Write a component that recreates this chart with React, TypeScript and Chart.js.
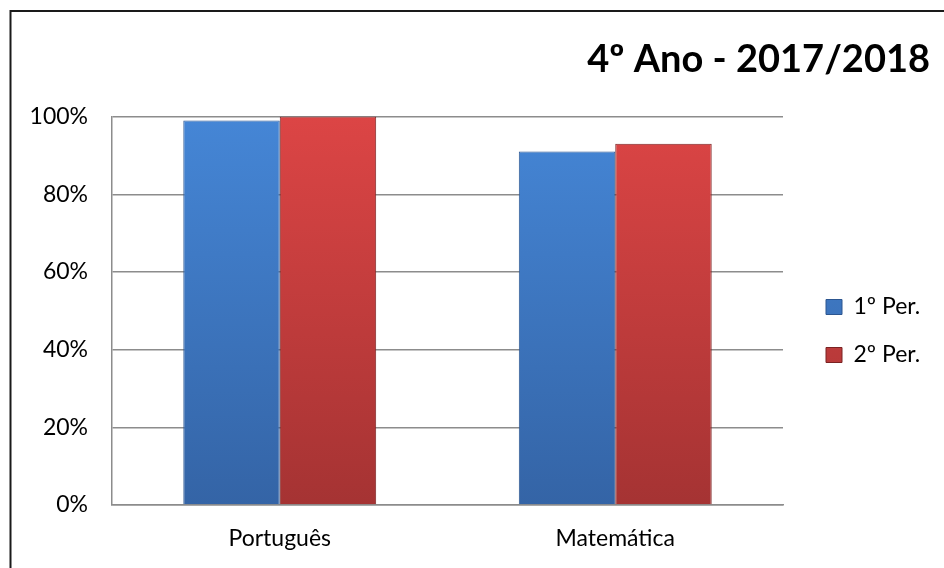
import React, { useEffect, useRef } from 'react';
import { Chart, registerables } from 'chart.js';

Chart.register(...registerables);

const categories = ['Português', 'Matemática'];
const seriesNames = ['1º Per.', '2º Per.'];
const firstPeriod = [0.99, 0.91];
const secondPeriod = [1.0, 0.93];
const yTickValues = [0, 0.2, 0.4, 0.6, 0.8, 1.0];
const titleText = '4º Ano - 2017/2018';

const FONT = 'Lato, "Open Sans", sans-serif';
const LEGEND_WIDTH = 147;
const LEGEND_SHIFT_X = 18;
const LEGEND_SHIFT_Y = 47;

const framePlugin = {
  id: 'frame',
  beforeDraw(chart: any) {
    const { ctx } = chart;
    ctx.save();
    ctx.fillStyle = '#ffffff';
    ctx.fillRect(0, 0, chart.width, chart.height);
    ctx.strokeStyle = '#1a1a1a';
    ctx.lineWidth = 2;
    ctx.strokeRect(10.5, 11, chart.width + 20, chart.height + 20);
    ctx.restore();
  },
};

const legendPlacement = {
  id: 'legendPlacement',
  afterInit(chart: any) {
    const lg = chart.legend;
    if (!lg) return;
    const fit = lg.fit.bind(lg);
    lg.fit = function () {
      fit();
      this.width = LEGEND_WIDTH;
    };
  },
  afterLayout(chart: any) {
    const lg = chart.legend;
    if (!lg) return;
    lg.left += LEGEND_SHIFT_X;
    lg.right += LEGEND_SHIFT_X;
    lg.top += LEGEND_SHIFT_Y;
    lg.bottom += LEGEND_SHIFT_Y;
  },
};

function barGradient(chart: any, top: string, bottom: string) {
  const area = chart.chartArea;
  if (!area) return top;
  const g = chart.ctx.createLinearGradient(0, area.top, 0, area.bottom);
  g.addColorStop(0, top);
  g.addColorStop(1, bottom);
  return g;
}

export default function App() {
  const ref = useRef<HTMLCanvasElement>(null);

  useEffect(() => {
    if (!ref.current) return;
    const chart = new Chart(ref.current, {
      type: 'bar',
      data: {
        labels: categories,
        datasets: [
          {
            label: seriesNames[0],
            data: firstPeriod,
            backgroundColor: (c: any) => barGradient(c.chart, '#4586d6', '#3464a6'),
            borderColor: '#2c5690',
            borderWidth: 1,
          },
          {
            label: seriesNames[1],
            data: secondPeriod,
            backgroundColor: (c: any) => barGradient(c.chart, '#dc4545', '#a53333'),
            borderColor: '#7a2222',
            borderWidth: 1,
          },
        ],
      },
      options: {
        animation: false,
        responsive: false,
        layout: { padding: { left: 0, right: 14, top: 0, bottom: 0 } },
        datasets: {
          bar: { categoryPercentage: 0.575, barPercentage: 1.0 },
        },
        scales: {
          x: {
            grid: { display: false, drawTicks: false },
            border: { display: true, color: '#8c8c8c', width: 1.5 },
            ticks: { color: '#000', font: { family: FONT, size: 23 }, padding: 20 },
            afterFit(scale: any) {
              scale.height = 63;
            },
          },
          y: {
            min: 0,
            max: 1,
            afterBuildTicks(scale: any) {
              scale.ticks = yTickValues.map((v) => ({ value: v }));
            },
            grid: { color: '#8c8c8c', lineWidth: 1.5, drawTicks: false },
            border: { display: true, color: '#8c8c8c', width: 1.5 },
            ticks: {
              color: '#000',
              font: { family: FONT, size: 23 },
              padding: 24,
              callback: (v: any) => Math.round(Number(v) * 100) + '%',
            },
            afterFit(scale: any) {
              scale.width = 112;
            },
          },
        },
        plugins: {
          title: {
            display: true,
            text: titleText,
            align: 'end',
            color: '#000',
            font: { family: FONT, size: 38, weight: 'bold' },
            padding: { top: 37, bottom: 34 },
          },
          legend: {
            position: 'right',
            align: 'center',
            labels: {
              color: '#000',
              font: { family: FONT, size: 23 },
              boxWidth: 16,
              boxHeight: 15,
              padding: 25,
            },
          },
          tooltip: { enabled: false },
        },
      },
      plugins: [framePlugin, legendPlacement],
    } as any);
    return () => chart.destroy();
  }, []);

  return (
    <div style={{ position: 'fixed', left: 0, top: 0, width: 944, height: 568 }}>
      <canvas ref={ref} width={944} height={568} style={{ display: 'block' }} />
    </div>
  );
}
